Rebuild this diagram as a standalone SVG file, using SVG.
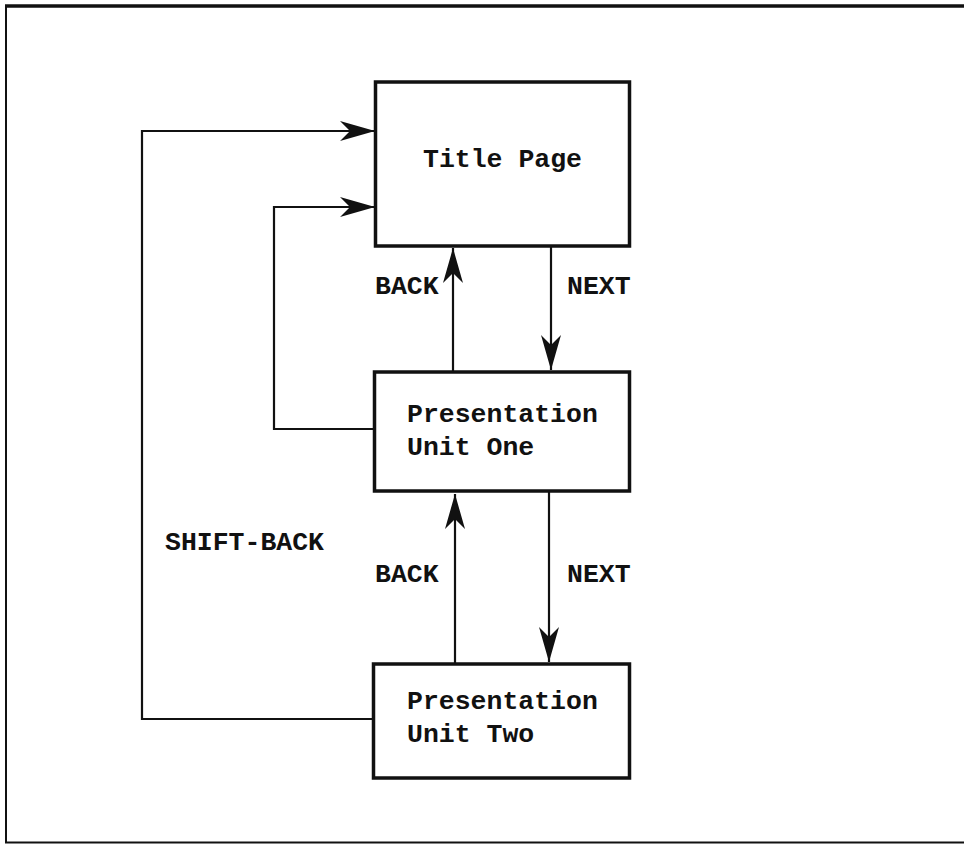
<svg xmlns="http://www.w3.org/2000/svg" width="964" height="845" viewBox="0 0 964 845">
<style>
.box{fill:#fff;stroke:#111;stroke-width:3.5}
.con{fill:none;stroke:#111;stroke-width:2.2}
.t{font-family:"Liberation Mono","Courier New",monospace;font-weight:bold;font-size:26.5px;fill:#111}
.frame{fill:none;stroke:#111}
</style>
<defs>
<marker id="ah" markerUnits="userSpaceOnUse" markerWidth="40" markerHeight="24" viewBox="-36 -12 38 24" refX="0" refY="0" orient="auto">
<path d="M0,0 L-35,-10 L-25,0 L-35,10 Z" fill="#111"/>
</marker>
</defs>
<rect width="964" height="845" fill="#fff"/>
<g id="frame">
<line class="frame" x1="5" y1="6" x2="964" y2="6" stroke-width="3.5"/>
<line class="frame" x1="6" y1="5" x2="6" y2="843" stroke-width="2"/>
<line class="frame" x1="5" y1="842.5" x2="964" y2="842.5" stroke-width="2"/>
</g>
<g id="connectors">
<path class="con" d="M373,719 H142 V131 H375" marker-end="url(#ah)"/>
<path class="con" d="M374,429 H274 V207 H375" marker-end="url(#ah)"/>
<path class="con" d="M453,372 V248" marker-end="url(#ah)"/>
<path class="con" d="M551,246 V370" marker-end="url(#ah)"/>
<path class="con" d="M455,664 V494" marker-end="url(#ah)"/>
<path class="con" d="M549,491 V662" marker-end="url(#ah)"/>
<text class="t" x="375" y="294">BACK</text>
<text class="t" x="567" y="294">NEXT</text>
<text class="t" x="165" y="550">SHIFT-BACK</text>
<text class="t" x="375" y="582">BACK</text>
<text class="t" x="567" y="582">NEXT</text>
</g>
<g id="title-page">
<rect class="box" x="375.5" y="82" width="254" height="164"/>
<text class="t" x="423" y="167">Title Page</text>
</g>
<g id="unit-one">
<rect class="box" x="374.5" y="372" width="255" height="119"/>
<text class="t" x="407" y="422">Presentation</text>
<text class="t" x="407" y="455">Unit One</text>
</g>
<g id="unit-two">
<rect class="box" x="373.5" y="664" width="256" height="114"/>
<text class="t" x="407" y="709">Presentation</text>
<text class="t" x="407" y="742">Unit Two</text>
</g>
</svg>
